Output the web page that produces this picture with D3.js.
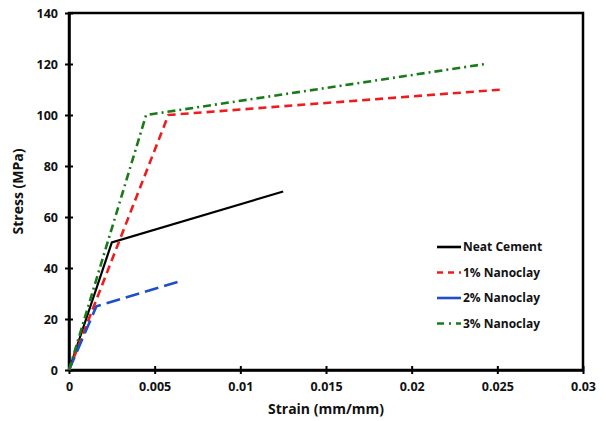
<!DOCTYPE html>
<html>
<head>
<meta charset="utf-8">
<style>
  body { margin: 0; background: #fff; }
  text { font-family: "Open Sans", sans-serif; font-weight: bold; fill: #111; }
</style>
</head>
<body>
<svg width="606" height="421"></svg>
<script src="https://cdn.jsdelivr.net/npm/d3@7"></script>
<script>

// series: [strain, stress]
var neatCement = [[0, 0], [0.0025, 50], [0.0125, 70]];
var nanoclay1 = [[0, 0], [0.0058, 100], [0.0253, 110]];
var nanoclay2 = [[0, 0], [0.0016, 25], [0.0066, 35]];
var nanoclay3 = [[0, 0], [0.0045, 100], [0.0243, 120]];

var seriesNames = ["Neat Cement", "1% Nanoclay", "2% Nanoclay", "3% Nanoclay"];
var xTicks = [0, 0.005, 0.01, 0.015, 0.02, 0.025, 0.03];
var yTicks = [0, 20, 40, 60, 80, 100, 120, 140];

var svg = d3.select("svg"),
    margin = {left: 69, right: 23, top: 13, bottom: 51},
    width = +svg.attr("width"),
    height = +svg.attr("height");

var x = d3.scaleLinear().domain([0, 0.03]).range([margin.left, width - margin.right]);
var y = d3.scaleLinear().domain([0, 140]).range([height - margin.bottom, margin.top]);

var styles = [
  {color: "#000000", dash: null},
  {color: "#ee1c1c", dash: "8,5"},
  {color: "#1f4fc8", dash: "14,6"},
  {color: "#1a7a1a", dash: "8,4,2,4"}
];
var allSeries = [neatCement, nanoclay1, nanoclay2, nanoclay3];

// frame
svg.append("rect")
    .attr("x", x(0)).attr("y", y(140))
    .attr("width", x(0.03) - x(0)).attr("height", y(0) - y(140))
    .attr("fill", "none").attr("stroke", "#000").attr("stroke-width", 2.5);

var xAxis = svg.append("g")
    .attr("transform", "translate(0," + y(0) + ")")
    .call(d3.axisBottom(x).tickValues(xTicks).tickSizeInner(4).tickSizeOuter(0).tickPadding(8)
      .tickFormat(function(d) { return d === 0 ? "0" : String(+d.toFixed(3)); }));
xAxis.selectAll("line").attr("y1", -4).attr("stroke-width", 2);
xAxis.select(".domain").attr("stroke-width", 2.5);
xAxis.selectAll("text").attr("font-size", 12.5).style("font-family", "'Open Sans', sans-serif").style("font-weight", "bold").attr("fill", "#111");

var yAxis = svg.append("g")
    .attr("transform", "translate(" + x(0) + ",0)")
    .call(d3.axisLeft(y).tickValues(yTicks).tickSizeInner(4).tickSizeOuter(0).tickPadding(7));
yAxis.selectAll("line").attr("x1", 4).attr("stroke-width", 2);
yAxis.select(".domain").attr("stroke-width", 2.5);
yAxis.selectAll("text").attr("font-size", 12.5).style("font-family", "'Open Sans', sans-serif").style("font-weight", "bold").attr("fill", "#111");

var line = d3.line()
    .x(function(d) { return x(d[0]); })
    .y(function(d) { return y(d[1]); });

svg.append("g").selectAll("path")
    .data(allSeries)
  .enter().append("path")
    .attr("d", line)
    .attr("fill", "none")
    .attr("stroke", function(d, i) { return styles[i].color; })
    .attr("stroke-width", function(d, i) { return i === 0 ? 2.2 : 2.6; })
    .attr("stroke-dasharray", function(d, i) { return styles[i].dash; });

// axis titles
svg.append("text")
    .attr("x", x(0.015)).attr("y", 414)
    .attr("text-anchor", "middle").attr("font-size", 14)
    .text("Strain (mm/mm)");

svg.append("text")
    .attr("transform", "translate(23," + y(70) + ") rotate(-90)")
    .attr("text-anchor", "middle").attr("font-size", 14)
    .text("Stress (MPa)");

// legend
var legend = svg.append("g").selectAll("g")
    .data(seriesNames)
  .enter().append("g")
    .attr("transform", function(d, i) { return "translate(437," + (247 + i * 25.5) + ")"; });

legend.append("line")
    .attr("x1", 0).attr("x2", 24)
    .attr("stroke", function(d, i) { return styles[i].color; })
    .attr("stroke-width", 2.6)
    .attr("stroke-dasharray", function(d, i) { return i === 1 ? "6,5" : i === 3 ? "7,5,2,5" : null; });

legend.append("text")
    .attr("x", 26).attr("dy", "0.35em")
    .attr("font-size", 12)
    .text(function(d) { return d; });

</script>
</body>
</html>
